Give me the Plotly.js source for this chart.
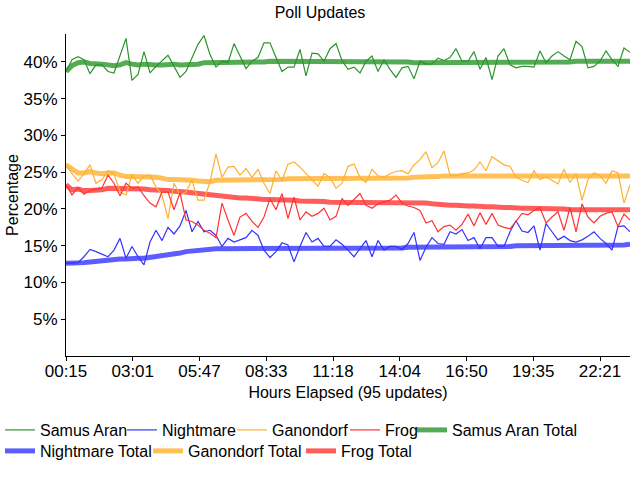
<!DOCTYPE html>
<html>
<head>
<meta charset="utf-8">
<script src="https://cdn.plot.ly/plotly-3.0.1.min.js"></script>
<style>html,body{margin:0;padding:0;background:#fff;}#chart{width:640px;height:480px;}</style>
</head>
<body>
<div id="chart"></div>
<script>
// Tick labels of the x axis (hours elapsed)
const xTickLabels = ["00:15","03:01","05:47","08:33","11:18","14:04","16:50","19:35","22:21"];
const yTickValues = [5,10,15,20,25,30,35,40];

// Individual poll updates (percent)
const samusAran = [38.7,40.3,40.7,40.3,38.4,39.6,39.6,38.7,38.5,41.0,43.2,37.5,38.3,41.4,38.5,39.4,40.2,40.9,39.4,37.9,38.7,40.6,42.4,43.6,41.0,39.3,40.1,39.9,42.5,40.8,39.1,40.1,40.6,42.6,42.6,40.6,38.7,39.3,39.3,41.7,38.1,41.2,41.1,40.1,41.8,42.5,40.2,39.0,39.3,38.5,40.1,40.8,38.7,40.3,39.0,37.9,39.2,39.4,37.7,40.1,39.7,39.7,40.5,40.2,40.6,41.8,40.1,40.1,41.4,39.0,40.6,37.6,40.8,41.8,39.6,39.2,39.4,39.4,39.3,41.5,39.9,40.8,41.4,40.8,40.3,42.8,42.1,39.2,39.4,40.1,41.5,40.3,39.4,41.9,41.3];
const nightmare = [12.6,12.6,12.7,13.5,14.5,14.2,13.9,13.5,14.4,16.0,13.3,14.9,13.5,12.4,15.5,17.1,15.7,17.5,16.6,17.7,19.8,16.9,18.3,16.9,17.1,16.4,14.9,16.0,15.5,15.8,16.1,17.1,16.4,14.4,13.4,14.2,15.4,15.1,12.8,14.9,16.8,15.5,16.0,14.9,14.9,15.8,15.2,14.4,13.5,14.6,15.7,13.5,15.7,14.4,14.9,14.9,14.5,15.3,16.8,13.0,14.8,16.1,15.3,15.2,16.9,16.6,17.2,15.7,16.1,14.6,16.1,16.1,14.9,14.9,16.9,18.4,17.0,16.8,17.7,14.4,18.0,16.9,15.8,16.3,15.7,15.5,15.8,16.3,16.9,16.0,15.3,14.4,17.6,17.7,16.9];
const ganondorf = [26.0,24.8,23.8,24.8,26.0,23.5,24.0,25.2,24.8,22.3,21.9,24.6,23.5,24.5,24.6,23.0,21.9,18.7,23.5,21.9,22.3,23.9,21.2,21.2,23.7,27.5,24.3,25.7,25.8,24.6,25.5,24.3,25.4,23.5,22.1,25.2,23.9,26.1,26.4,25.7,24.8,24.0,23.1,24.8,24.3,22.8,23.5,25.8,26.1,24.3,23.6,25.4,24.5,24.3,24.8,25.1,25.2,24.8,26.0,26.7,27.8,25.6,26.3,27.9,24.6,24.5,24.8,24.9,25.3,26.4,25.2,27.1,26.6,26.0,25.8,24.3,23.9,23.6,25.2,24.0,24.4,23.9,23.4,25.4,23.6,24.8,21.2,24.0,24.9,24.6,23.5,25.2,24.9,20.8,23.3];
const frog = [23.3,21.9,22.9,22.0,22.5,22.7,22.9,24.6,23.5,21.8,23.5,22.8,23.0,21.8,20.8,20.3,22.3,22.3,19.9,22.2,18.5,18.3,17.8,17.1,16.7,16.1,20.8,18.5,16.4,18.9,19.4,18.3,17.5,18.9,21.4,19.9,22.1,18.7,21.6,18.5,19.6,19.0,19.4,20.1,18.5,19.0,21.4,20.5,21.3,22.1,20.5,20.1,20.7,21.0,21.2,21.9,20.8,20.4,20.2,19.8,18.1,18.4,16.9,17.6,17.8,17.1,17.9,19.3,17.7,19.5,17.9,19.4,17.8,17.5,17.3,18.3,19.4,19.2,19.8,20.2,18.1,18.9,19.6,17.1,20.2,16.9,20.7,18.9,18.1,19.0,19.4,19.6,17.6,19.3,18.5];

// Running totals (percent)
const samusAranTotal = [38.7,39.5,39.9,40.0,39.8,39.8,39.7,39.6,39.5,39.6,39.9,39.7,39.6,39.7,39.6,39.6,39.6,39.7,39.7,39.6,39.6,39.6,39.7,39.9,39.9,39.9,39.9,39.9,40.0,40.0,40.0,40.0,40.0,40.0,40.1,40.1,40.0,40.0,40.0,40.0,40.0,40.0,40.0,40.0,40.1,40.1,40.1,40.1,40.0,40.0,40.0,40.0,40.0,40.0,40.0,40.0,40.0,40.0,39.9,39.9,39.9,39.9,40.0,40.0,40.0,40.0,40.0,40.0,40.0,40.0,40.0,40.0,40.0,40.0,40.0,40.0,40.0,40.0,40.0,40.0,40.0,40.0,40.0,40.0,40.0,40.1,40.1,40.1,40.1,40.1,40.1,40.1,40.1,40.1,40.1];
const nightmareTotal = [12.6,12.6,12.6,12.7,12.8,12.9,13.0,13.0,13.1,13.2,13.2,13.3,13.3,13.3,13.4,13.6,13.7,13.8,13.9,14.0,14.2,14.3,14.4,14.5,14.5,14.6,14.6,14.6,14.6,14.6,14.7,14.7,14.7,14.7,14.7,14.7,14.7,14.7,14.6,14.6,14.7,14.7,14.7,14.7,14.7,14.7,14.7,14.7,14.7,14.7,14.7,14.7,14.7,14.7,14.7,14.7,14.7,14.8,14.8,14.8,14.8,14.8,14.8,14.8,14.8,14.9,14.9,14.9,14.9,14.9,14.9,14.9,14.9,14.9,14.9,15.0,15.0,15.0,15.0,15.0,15.1,15.1,15.1,15.1,15.1,15.1,15.1,15.1,15.1,15.1,15.1,15.1,15.1,15.1,15.2];
const ganondorfTotal = [26.0,25.4,24.9,24.9,25.1,24.9,24.8,24.9,24.9,24.6,24.4,24.4,24.4,24.4,24.4,24.3,24.2,24.0,24.0,24.0,23.9,23.9,23.8,23.7,23.7,23.9,23.9,23.9,24.0,24.0,24.0,24.0,24.0,24.0,24.0,24.0,24.0,24.1,24.1,24.1,24.1,24.1,24.1,24.1,24.1,24.1,24.1,24.1,24.2,24.2,24.2,24.2,24.2,24.2,24.2,24.2,24.2,24.2,24.3,24.3,24.4,24.4,24.4,24.5,24.5,24.5,24.5,24.5,24.5,24.5,24.5,24.6,24.6,24.6,24.6,24.6,24.6,24.6,24.6,24.6,24.6,24.6,24.6,24.6,24.6,24.6,24.5,24.5,24.5,24.5,24.5,24.5,24.5,24.5,24.5];
const frogTotal = [23.3,22.6,22.7,22.5,22.5,22.5,22.6,22.8,22.8,22.7,22.8,22.8,22.8,22.7,22.6,22.6,22.6,22.5,22.4,22.4,22.3,22.2,22.1,22.0,21.9,21.8,21.8,21.7,21.6,21.5,21.5,21.4,21.3,21.3,21.3,21.3,21.3,21.2,21.2,21.1,21.1,21.0,21.0,21.0,20.9,20.9,20.9,20.9,20.9,20.9,20.9,20.9,20.9,20.9,20.9,20.9,20.9,20.9,20.9,20.8,20.8,20.7,20.6,20.6,20.5,20.5,20.4,20.4,20.4,20.3,20.3,20.3,20.2,20.2,20.2,20.1,20.1,20.1,20.1,20.1,20.0,20.0,20.0,20.0,19.9,19.9,19.9,19.9,19.9,19.9,19.9,19.9,19.9,19.9,19.9];

const FONT = '"Liberation Sans", Arial, sans-serif';
const idx = samusAran.map((_, i) => i);
const n = samusAran.length;
const tickStep = 11.125;
const xTickVals = xTickLabels.map((_, k) => k * tickStep);

// one legend per entry so that the entries flow like the reference
// [legend id, text left edge (px), row]
const legendSlots = [
  ['legend', 36, 0], ['legend2', 163, 0], ['legend3', 273, 0], ['legend4', 386, 0], ['legend5', 453, 0],
  ['legend6', 36, 1], ['legend7', 189, 1], ['legend8', 342, 1]
];
const rowTop = [413, 434];

function thin(name, y, color, k) {
  return {x: idx, y: y, name: name, type: 'scatter', mode: 'lines', legend: legendSlots[k][0],
          line: {color: color, width: 1.2}, hoverinfo: 'none'};
}
function thick(name, y, color, k) {
  return {x: idx, y: y, name: name, type: 'scatter', mode: 'lines', legend: legendSlots[k][0],
          line: {color: color, width: 5}, opacity: 0.8, hoverinfo: 'none'};
}

// thick totals drawn first so the thin lines sit on top
const data = [
  thick('Samus Aran Total', samusAranTotal, '#2a952a', 4),
  thick('Nightmare Total', nightmareTotal, '#3333ff', 5),
  thick('Ganondorf Total', ganondorfTotal, '#ffb02e', 6),
  thick('Frog Total', frogTotal, '#ff3333', 7),
  thin('Samus Aran', samusAran, '#2a952a', 0),
  thin('Nightmare', nightmare, '#3333ff', 1),
  thin('Ganondorf', ganondorf, '#ffb02e', 2),
  thin('Frog', frog, '#ff3333', 3)
];

const legendFont = {family: FONT, size: 16, color: '#000'};
const layout = {
  width: 640, height: 480,
  paper_bgcolor: '#ffffff', plot_bgcolor: '#ffffff',
  margin: {l: 66, r: 10, t: 34, b: 124, pad: 0},
  font: {family: FONT, size: 16, color: '#000'},
  title: {text: 'Poll Updates', x: 0.5, xref: 'container', xanchor: 'center', y: 0.975, yref: 'container', yanchor: 'middle',
          font: {family: FONT, size: 16, color: '#000'}},
  showlegend: true,
  xaxis: {range: [0, n - 1], tickvals: xTickVals, ticktext: xTickLabels, automargin: false,
          showgrid: false, zeroline: false, showline: true, linecolor: '#000', linewidth: 1,
          ticks: 'outside', ticklen: 4, tickcolor: '#000', ticklabelstandoff: -4,
          tickfont: {family: FONT, size: 17, color: '#000'},
          title: {text: 'Hours Elapsed (95 updates)', standoff: 6, font: {family: FONT, size: 16, color: '#000'}}},
  yaxis: {range: [0, 43.8], tickvals: yTickValues, ticktext: yTickValues.map(v => v + '%'), automargin: false,
          showgrid: false, zeroline: false, showline: true, linecolor: '#000', linewidth: 1,
          ticks: 'outside', ticklen: 4, tickcolor: '#000', ticklabelstandoff: 0,
          tickfont: {family: FONT, size: 17, color: '#000'},
          title: {text: 'Percentage', standoff: 0, font: {family: FONT, size: 16, color: '#000'}}}
};
legendSlots.forEach(([id, textX, row]) => {
  layout[id] = {orientation: 'h', xref: 'container', yref: 'container',
                x: Math.max(0, (textX - 41) / 640), xanchor: 'left', y: 1 - rowTop[row] / 480, yanchor: 'top',
                font: legendFont, itemwidth: 30, bgcolor: 'rgba(0,0,0,0)', borderwidth: 0};
});

Plotly.newPlot('chart', data, layout, {staticPlot: true, displayModeBar: false});
</script>
</body>
</html>
